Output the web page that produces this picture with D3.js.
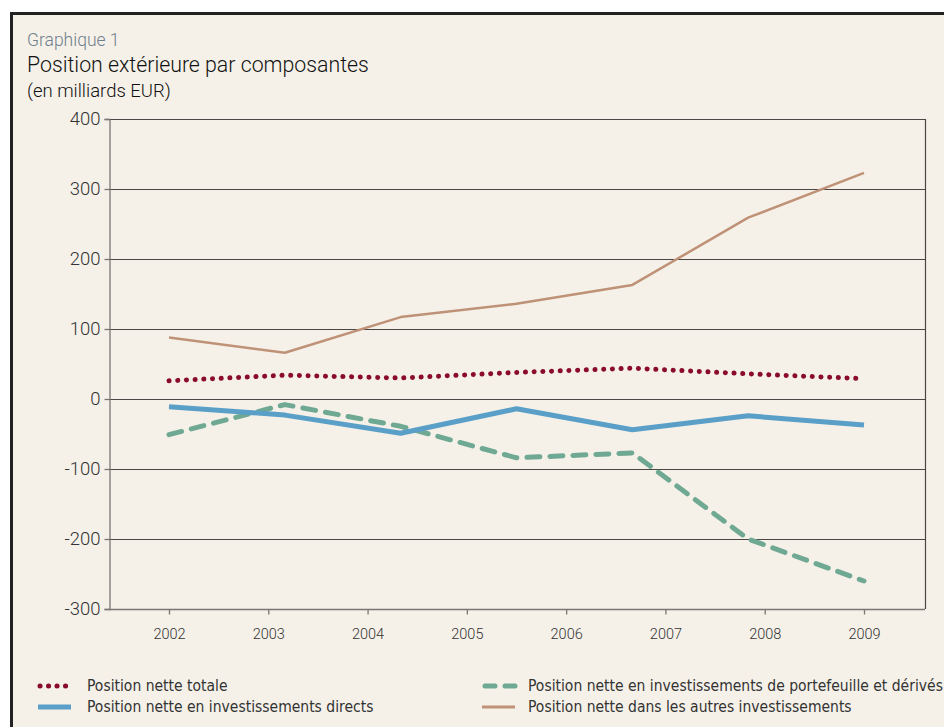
<!DOCTYPE html>
<html>
<head>
<meta charset="utf-8">
<script src="https://cdn.jsdelivr.net/npm/d3@7"></script>
<style>
  body { margin: 0; background: #fff; }
  svg { display: block; }
</style>
</head>
<body>
<div id="chart"></div>
<script>
const width = 944;
const height = 727;

// données (milliards EUR)
const years = [2002, 2003, 2004, 2005, 2006, 2007, 2008, 2009];
const totale = [26, 34, 30, 38, 44, 36, 29];
const directs = [-11, -23, -49, -14, -44, -24, -37];
const portefeuille = [-51, -8, -39, -84, -77, -200, -260];
const autres = [88, 66, 117, 136, 163, 259, 323];
const yTicks = [400, 300, 200, 100, 0, -100, -200, -300];

const series = [
  { name: "Position nette totale", values: totale, color: "#8a0b2c", width: 5, dash: "0.1 8.6", cap: "round" },
  { name: "Position nette en investissements directs", values: directs, color: "#5a9fc7", width: 5, dash: null, cap: "butt" },
  { name: "Position nette en investissements de portefeuille et dérivés", values: portefeuille, color: "#70a993", width: 5, dash: "13 10", cap: "round" },
  { name: "Position nette dans les autres investissements", values: autres, color: "#bf9277", width: 2.5, dash: null, cap: "butt" }
];

const margin = { left: 109, right: 19, top: 119, bottom: 118 };

const svg = d3.select("#chart").append("svg")
  .attr("width", width)
  .attr("height", height);

// fond + cadre
svg.append("rect")
  .attr("x", 11.5).attr("y", 13.5)
  .attr("width", width + 20).attr("height", height + 20)
  .attr("fill", "#f5f1e9")
  .attr("stroke", "#222")
  .attr("stroke-width", 3);

// titres
svg.append("text").attr("x", 27).attr("y", 46)
  .attr("font-family", "Roboto").attr("font-size", 17.5).attr("font-weight", 300)
  .attr("fill", "#6f7f8c").text("Graphique 1");
svg.append("text").attr("x", 27).attr("y", 72)
  .attr("font-family", "Roboto").attr("font-size", 21.3).attr("font-weight", 300)
  .attr("fill", "#111").text("Position extérieure par composantes");
svg.append("text").attr("x", 27).attr("y", 97)
  .attr("font-family", "Roboto").attr("font-size", 18.5).attr("font-weight", 300)
  .attr("fill", "#111").text("(en milliards EUR)");

const x0 = margin.left;
const y = d3.scaleLinear().domain([-300, 400]).range([609, 119]);

// années : positions des graduations
const xYear = d3.scaleLinear().domain([2002, 2009]).range([169, 864]);
// points de données : 7 valeurs réparties entre 2002 et 2009
const xData = d3.scaleLinear().domain([0, totale.length - 1]).range([xYear(2002), xYear(2009)]);

// grille horizontale
svg.append("g")
  .selectAll("line")
  .data(yTicks.filter(d => d > -300))
  .join("line")
  .attr("x1", x0).attr("x2", 925)
  .attr("y1", d => Math.round(y(d)) + 0.5).attr("y2", d => Math.round(y(d)) + 0.5)
  .attr("stroke", "#4a4644").attr("stroke-width", 1.2);

// bord droit
svg.append("line")
  .attr("x1", 925.5).attr("x2", 925.5)
  .attr("y1", y(400)).attr("y2", y(-300))
  .attr("stroke", "#4a4644").attr("stroke-width", 1.2);

// axe Y
const yAxis = d3.axisLeft(y).tickValues(yTicks).tickSize(5).tickPadding(4)
  .tickFormat(d => d < 0 ? "-" + Math.abs(d) : d);
const gy = svg.append("g").attr("transform", `translate(${x0 + 0.5},0)`).call(yAxis);
gy.selectAll("path, line").attr("stroke", "#7a7672").attr("stroke-width", 1.3);
gy.selectAll("text")
  .attr("font-family", "Roboto").attr("font-weight", 300)
  .attr("font-size", 18.5).attr("fill", "#333");

// axe X
const xAxis = d3.axisBottom(xYear).tickValues(years).tickSize(5).tickPadding(14)
  .tickFormat(d3.format("d"));
const gx = svg.append("g").attr("transform", `translate(0,${y(-300) + 0.5})`).call(xAxis);
gx.select("path").attr("d", `M${x0},0H925`);
gx.selectAll("path, line").attr("stroke", "#7a7672").attr("stroke-width", 1.3);
gx.selectAll("text")
  .attr("font-family", "Roboto").attr("font-weight", 300)
  .attr("font-size", 14.5).attr("fill", "#333");

// lignes
const line = d3.line()
  .x((d, i) => xData(i))
  .y(d => y(d));

const drawOrder = [3, 2, 1, 0];
drawOrder.forEach(k => {
  const s = series[k];
  svg.append("path")
    .datum(s.values)
    .attr("d", line)
    .attr("fill", "none")
    .attr("stroke", s.color)
    .attr("stroke-width", s.width)
    .attr("stroke-linecap", s.cap)
    .attr("stroke-linejoin", "round")
    .attr("stroke-dasharray", s.dash);
});

// légende
const legendPos = [
  { x: 38, y: 686 },
  { x: 38, y: 707 },
  { x: 482, y: 686 },
  { x: 482, y: 707 }
];
const legend = svg.append("g")
  .selectAll("g")
  .data(series)
  .join("g")
  .attr("transform", (d, i) => `translate(${legendPos[i].x},${legendPos[i].y})`);

legend.append("line")
  .attr("x1", (d, i) => i === 0 ? 2 : (i === 2 ? 3 : 0))
  .attr("x2", (d, i) => i === 0 ? 32 : 33)
  .attr("y1", 0).attr("y2", 0)
  .attr("stroke", d => d.color)
  .attr("stroke-width", (d, i) => i === 3 ? 3 : 5)
  .attr("stroke-linecap", d => d.cap)
  .attr("stroke-dasharray", (d, i) => i === 0 ? "0.1 8.4" : (i === 2 ? "10 10" : null));

legend.append("text")
  .attr("x", (d, i) => i < 2 ? 49 : 46)
  .attr("y", 0)
  .attr("dy", "0.35em")
  .attr("font-family", "DejaVu Sans Condensed")
  .attr("font-size", 15.5)
  .attr("fill", "#333")
  .text(d => d.name);
</script>
</body>
</html>
